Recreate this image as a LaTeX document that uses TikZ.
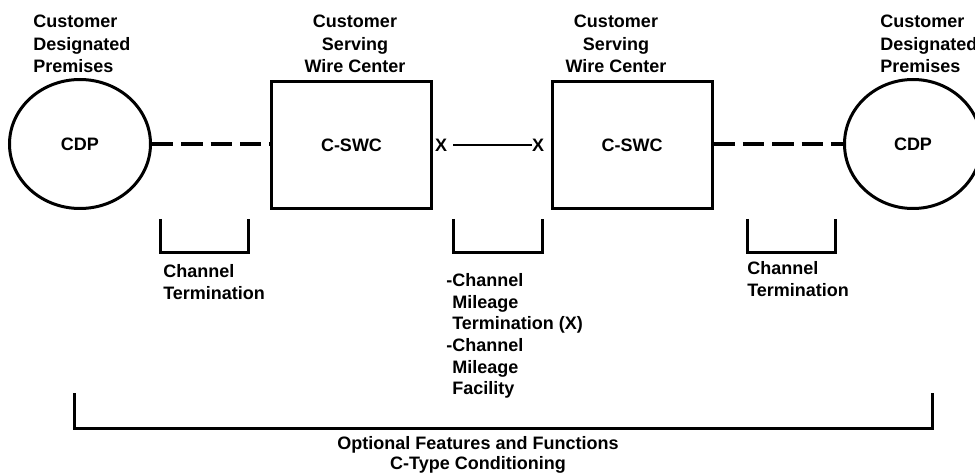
\documentclass[tikz,border=0pt]{standalone}
\usepackage{fontspec}
\setmainfont{Liberation Sans}
\usetikzlibrary{shapes.geometric}
\tikzset{
  lbl/.style={font=\bfseries\fontsize{13.5}{16.5}\selectfont, inner sep=0pt},
  cdp/.style={lbl, draw, ellipse, line width=2.25pt, minimum width=105.75pt, minimum height=96.75pt},
  swc/.style={lbl, draw, rectangle, line width=2.25pt, minimum width=120pt, minimum height=95.25pt},
  dashline/.style={line width=3pt, dash pattern=on 16pt off 6pt},
  mileline/.style={line width=1.5pt},
  brk/.style={line width=2.25pt}
}
\begin{document}
\begin{tikzpicture}[x=0.75pt,y=-0.75pt]
        \useasboundingbox (0,0) rectangle (975,474);
        % premises and wire centers
        \node[cdp] (cdpa) at (80,144) {CDP};
        \node[swc] (swca) at (351.5,145) {C-SWC};
        \node[swc] (swcb) at (632,145) {C-SWC};
        \node[cdp, minimum width=102.75pt] (cdpb) at (913,144) {CDP};
        % titles
        \node[lbl, anchor=west, align=left, font=\bfseries\fontsize{13.5}{16.9}\selectfont] (ta) at (33,44) {Customer\\Designated\\Premises};
        \node[lbl, align=center, font=\bfseries\fontsize{13.5}{16.9}\selectfont] (tb) at (355,44) {Customer\\Serving\\Wire Center};
        \node[lbl, align=center, font=\bfseries\fontsize{13.5}{16.9}\selectfont] (tc) at (616,44) {Customer\\Serving\\Wire Center};
        \node[lbl, anchor=west, align=left, font=\bfseries\fontsize{13.5}{16.9}\selectfont] (td) at (880,44) {Customer\\Designated\\Premises};
        % links
        \draw[dashline] (cdpa.east) -- (swca.west |- cdpa.east);
        \draw[dashline] (swcb.east |- cdpb.west) -- (cdpb.west);
        \node[lbl] (xa) at (441,145) {X};
        \node[lbl] (xb) at (538,145) {X};
        \draw[mileline] ([xshift=4.5pt]xa.east) -- (xb.west);
        % brackets
        \draw[brk] (160,219) -- (160,253) -- (248,253) -- (248,219);
        \draw[brk] (453,219) -- (453,253) -- (542,253) -- (542,219);
        \draw[brk] (747,219) -- (747,253) -- (835,253) -- (835,219);
        \draw[brk] (74,393) -- (74,428) -- (932,428) -- (932,393);
        % bracket labels
        \node[lbl, anchor=west, align=left] (cta) at (163,282) {Channel\\Termination};
        \node[lbl, anchor=west, align=left] (ctb) at (747,279) {Channel\\Termination};
        \node[lbl, anchor=west, align=left, font=\bfseries\fontsize{13.5}{16.2}\selectfont] (cm) at (446,336) {-Channel\\\phantom{-}Mileage\\\phantom{-}Termination (X)\\-Channel\\\phantom{-}Mileage\\\phantom{-}Facility};
        \node[lbl, align=center, font=\bfseries\fontsize{13.5}{15}\selectfont] (opt) at (478,455) {Optional Features and Functions\\C-Type Conditioning};
\end{tikzpicture}
\end{document}
